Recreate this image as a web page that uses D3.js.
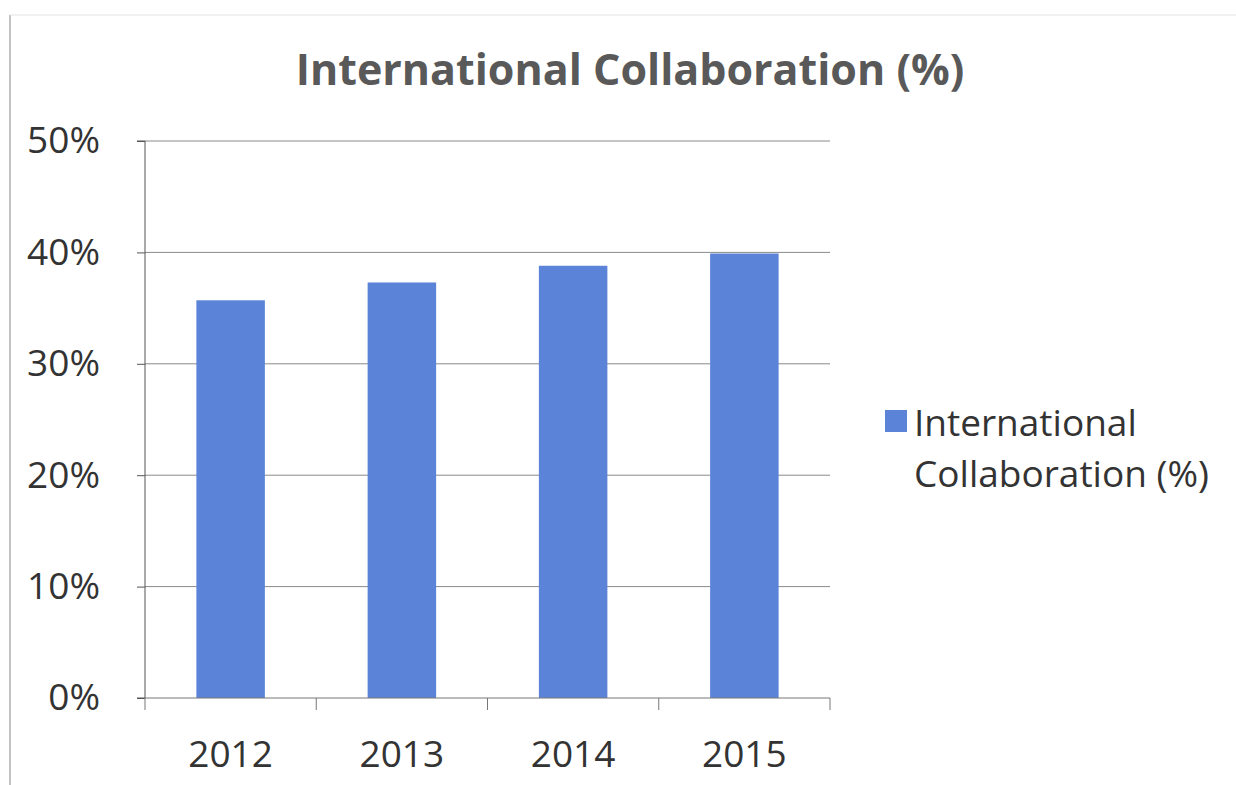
<!DOCTYPE html>
<html>
<head>
<meta charset="utf-8">
<script src="https://cdn.jsdelivr.net/npm/d3@7"></script>
<style>
  body { margin: 0; background: #fff; }
  svg { display: block; }
</style>
</head>
<body>
<svg id="chart" width="1236" height="785"></svg>
<script>
// data
const years = ["2012", "2013", "2014", "2015"];
const collabPct = [35.7, 37.3, 38.8, 39.9];
const yTicks = [0, 10, 20, 30, 40, 50];
const seriesName = "International Collaboration (%)";

const svg = d3.select("#chart");
const font = "'Open Sans', 'Noto Sans', sans-serif";
const barColor = "#5b83d8";

const margin = { top: 141, left: 145, right: 1236 - 830, bottom: 785 - 698 };
const plotW = 1236 - margin.left - margin.right;
const plotH = 785 - margin.top - margin.bottom;

// outer chart frame (scan edges)
svg.append("line").attr("x1", 10).attr("x2", 10).attr("y1", 15).attr("y2", 785)
  .attr("stroke", "#9a9a9a").attr("stroke-width", 1.2);
svg.append("line").attr("x1", 10).attr("x2", 1236).attr("y1", 15).attr("y2", 15)
  .attr("stroke", "#e2e2e2").attr("stroke-width", 1);

const g = svg.append("g").attr("transform", `translate(${margin.left},${margin.top})`);

const x = d3.scaleBand().domain(years).range([0, plotW]).paddingInner(0.6).paddingOuter(0.3);
const y = d3.scaleLinear().domain([0, 50]).range([plotH, 0]);

// gridlines
g.selectAll("line.grid")
  .data(yTicks.filter(d => d > 0))
  .join("line")
  .attr("class", "grid")
  .attr("x1", 0).attr("x2", plotW)
  .attr("y1", d => y(d)).attr("y2", d => y(d))
  .attr("stroke", "#8a8a8a").attr("stroke-width", 1);

// bars
g.selectAll("rect.bar")
  .data(years)
  .join("rect")
  .attr("class", "bar")
  .attr("x", d => x(d))
  .attr("width", x.bandwidth())
  .attr("y", (d, i) => y(collabPct[i]))
  .attr("height", (d, i) => plotH - y(collabPct[i]))
  .attr("fill", barColor);

// y axis
const yAxis = g.append("g")
  .call(d3.axisLeft(y).tickValues(yTicks).tickFormat(d => d + "%").tickSize(8).tickPadding(37));
yAxis.select(".domain").attr("stroke", "#555").attr("d", `M-8,0H0V${plotH}H-8`);
yAxis.selectAll(".tick line").attr("stroke", "#555");
yAxis.selectAll("text")
  .attr("font-family", font).attr("font-size", 37).attr("fill", "#333");

// x axis with ticks at category boundaries
const bottom = g.append("g").attr("transform", `translate(0,${plotH})`);
bottom.append("line").attr("x1", 0).attr("x2", plotW).attr("stroke", "#777");
const bounds = d3.range(years.length + 1).map(i => i * plotW / years.length);
bottom.selectAll("line.tk").data(bounds).join("line").attr("class", "tk")
  .attr("x1", d => d).attr("x2", d => d).attr("y1", 0).attr("y2", 12)
  .attr("stroke", "#777");
bottom.selectAll("text").data(years).join("text")
  .attr("x", d => x(d) + x.bandwidth() / 2)
  .attr("y", 69)
  .attr("text-anchor", "middle")
  .attr("font-family", font).attr("font-size", 37).attr("fill", "#333")
  .text(d => d);

// title
svg.append("text")
  .attr("x", 630).attr("y", 85)
  .attr("text-anchor", "middle")
  .attr("font-family", font).attr("font-size", 43).attr("font-weight", "bold")
  .attr("fill", "#595959")
  .text(seriesName);

// legend
const leg = svg.append("g").attr("transform", "translate(885,410)");
leg.append("rect").attr("width", 22).attr("height", 22).attr("fill", barColor);
leg.append("text").attr("x", 29).attr("y", 26)
  .attr("font-family", font).attr("font-size", 37).attr("fill", "#333")
  .text("International");
leg.append("text").attr("x", 29).attr("y", 77)
  .attr("font-family", font).attr("font-size", 37).attr("fill", "#333")
  .text("Collaboration (%)");
</script>
</body>
</html>
